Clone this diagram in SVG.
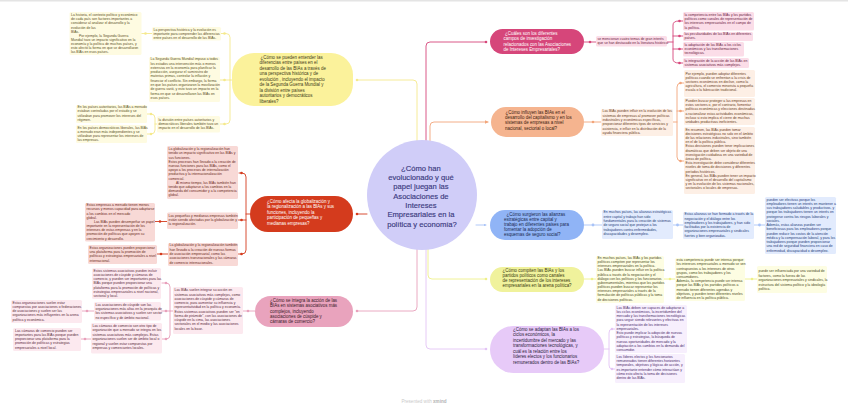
<svg xmlns="http://www.w3.org/2000/svg" width="848" height="412" viewBox="0 0 848 412">
<defs>
<marker id="arO" viewBox="0 0 6 6" refX="5" refY="3" markerWidth="4" markerHeight="4" orient="auto"><path d="M0,0 L6,3 L0,6 z" fill="#f2a57a"/></marker>
<marker id="arB" viewBox="0 0 6 6" refX="5" refY="3" markerWidth="3" markerHeight="3" orient="auto"><path d="M0,0 L6,3 L0,6 z" fill="#a8c3f7"/></marker>
</defs>
<style>
.c{font-family:"Liberation Sans",Arial,sans-serif;font-size:3.45px}
.n{font-family:"Liberation Sans",Arial,sans-serif;font-size:4.45px}
.ln{fill:none;stroke-width:0.9;stroke-linecap:round;stroke-linejoin:round}
.by{fill:#fefbe1}.ty{fill:#5a4f1e}
.br{fill:#f8d9d6}.tr{fill:#6a2a20}
.bp{fill:#fce9ef}.tp{fill:#5a2a3a}
.bm{fill:#fbdde8}.tm{fill:#6a2040}
.bo{fill:#fdefe5}.to{fill:#6a3a22}
.bb{fill:#e2ebfd}.tb{fill:#1f3c7a}
.bl{fill:#fdfde2}.tl{fill:#4a4a1a}
.bu{fill:#f7effd}.tu{fill:#4a2a6a}
</style>
<rect width="848" height="412" fill="#ffffff"/>
<rect width="848" height="1.5" fill="#e4e4e4"/>

<g id="connectors">
<!-- yellow -->
<path class="ln" stroke="#f5e98c" d="M417,141 V84 Q417,80 413,80 H357"/>
<path class="ln" stroke="#f5e98c" d="M232,80 H230 M221,33.5 H226 Q230,33.5 230,37.5 V120 Q230,124 226,124 H220 M220,80 H230 M152,33.5 H141.5 M157,124 H155 M147,114 H151 Q155,114 155,118 V130 Q155,134 151,134 H147"/>
<circle cx="357" cy="80" r="1.3" fill="#f5e98c"/>
<circle cx="224.5" cy="33.5" r="1.3" fill="#f5e98c"/>
<circle cx="224.5" cy="80" r="1.3" fill="#f5e98c"/>
<circle cx="224.5" cy="124" r="1.3" fill="#f5e98c"/>
<circle cx="145.5" cy="33.5" r="1.3" fill="#f5e98c"/>
<circle cx="151" cy="114" r="1.3" fill="#f5e98c"/>
<circle cx="151" cy="134" r="1.3" fill="#f5e98c"/>
<!-- red -->
<path class="ln" stroke="#d43b1d" d="M367,214 H357 M250,214 H246 M239,173 H242 Q246,173 246,177 V250 Q246,254 242,254 H238.5 M238.5,220 H246 M167,221.5 H155 M168,254 H157"/>
<circle cx="357" cy="214" r="1.3" fill="#d43b1d"/>
<circle cx="241.5" cy="173" r="1.3" fill="#d43b1d"/>
<circle cx="241.5" cy="220" r="1.3" fill="#d43b1d"/>
<circle cx="241.5" cy="254" r="1.3" fill="#d43b1d"/>
<circle cx="160" cy="221.5" r="1.3" fill="#d43b1d"/>
<circle cx="161" cy="254" r="1.3" fill="#d43b1d"/>
<!-- pink -->
<path class="ln" stroke="#e8a0bb" d="M417,249 V307 Q417,311 413,311 H357 M255,311 H243 M173,311 H170 M162,283 H166 Q170,283 170,287 V335 Q170,339 166,339 H162 M161,311 H170 M94,311 H82 M91,339 H81"/>
<circle cx="357" cy="311" r="1.3" fill="#e8a0bb"/>
<circle cx="248" cy="311" r="1.3" fill="#e8a0bb"/>
<circle cx="166" cy="283" r="1.3" fill="#e8a0bb"/>
<circle cx="166" cy="311" r="1.3" fill="#e8a0bb"/>
<circle cx="166" cy="339" r="1.3" fill="#e8a0bb"/>
<circle cx="87" cy="311" r="1.3" fill="#e8a0bb"/>
<circle cx="85" cy="339" r="1.3" fill="#e8a0bb"/>
<!-- magenta -->
<path class="ln" stroke="#d6467a" d="M426,141 V46 Q426,42 430,42 H486 M584,42 H596 M667,42 H673 M683,21 H679 Q673,21 673,25 V59 Q673,63 679,63 H683 M673,36 H683 M673,49 H683"/>
<circle cx="486" cy="42" r="1.3" fill="#d6467a"/>
<circle cx="590" cy="42" r="1.3" fill="#d6467a"/>
<circle cx="679.5" cy="21" r="1.3" fill="#d6467a"/>
<circle cx="679.5" cy="36" r="1.3" fill="#d6467a"/>
<circle cx="679.5" cy="49" r="1.3" fill="#d6467a"/>
<circle cx="679.5" cy="63" r="1.3" fill="#d6467a"/>
<!-- orange -->
<path class="ln" stroke="#f2a57a" d="M430,141 V126 Q430,122 434,122 H488" marker-end="url(#arO)"/>
<path class="ln" stroke="#f2a57a" d="M584,122 H601 M673,122 H677 M684,83 H681 Q677,83 677,87 V157 Q677,161 681,161 H684 M677,111 H684"/>
<circle cx="593" cy="122" r="1.3" fill="#f2a57a"/>
<circle cx="680.5" cy="83" r="1.3" fill="#f2a57a"/>
<circle cx="680.5" cy="111" r="1.3" fill="#f2a57a"/>
<circle cx="680.5" cy="161" r="1.3" fill="#f2a57a"/>
<!-- blue -->
<path class="ln" stroke="#a8c3f7" stroke-width="1.8" d="M476,225 H486" marker-end="url(#arB)"/>
<path class="ln" stroke="#a8c3f7" stroke-width="1.4" d="M584,225 H602 M673,225 H683 M754,225 H765"/>
<circle cx="593" cy="225" r="1.4" fill="#a8c3f7"/>
<circle cx="677.5" cy="225" r="1.4" fill="#a8c3f7"/>
<circle cx="759.5" cy="225" r="1.4" fill="#a8c3f7"/>
<!-- lime -->
<path class="ln" stroke="#eef08a" d="M428,249 V275 Q428,279 432,279 H486 M584,279 H596 M664,279 H675 M745,279 H757"/>
<circle cx="486" cy="279" r="1.3" fill="#eef08a"/>
<circle cx="592" cy="279" r="1.3" fill="#eef08a"/>
<circle cx="670" cy="279" r="1.3" fill="#eef08a"/>
<circle cx="752" cy="279" r="1.3" fill="#eef08a"/>
<!-- purple -->
<path class="ln" stroke="#e3c4f5" d="M426,249 V345 Q426,349 430,349 H486 M604,349 H609 M615,329 H612 Q609,329 609,333 V365 Q609,369 612,369 H615"/>
<circle cx="486" cy="349" r="1.3" fill="#e3c4f5"/>
<circle cx="612" cy="329" r="1.3" fill="#e3c4f5"/>
<circle cx="612" cy="369" r="1.3" fill="#e3c4f5"/>
</g>

<g id="central">
<ellipse cx="422" cy="195" rx="55" ry="55" fill="#d0cdf8"/>
<text font-family="'Liberation Sans',Arial,sans-serif" font-size="7.6" fill="#3b3a80" stroke="#3b3a80" stroke-width="0.15" text-anchor="middle">
<tspan x="422" y="170.7">¿Cómo han</tspan>
<tspan x="422" y="180">evolucionado y qué</tspan>
<tspan x="422" y="189.3">papel juegan las</tspan>
<tspan x="422" y="198.6">Asociaciones de</tspan>
<tspan x="422" y="207.9">Intereses</tspan>
<tspan x="422" y="217.2">Empresariales en la</tspan>
<tspan x="422" y="226.5">política y economía?</tspan>
</text>
</g>

<!-- ===== YELLOW BRANCH ===== -->
<g id="node-yellow">
<rect x="232" y="53" width="121" height="53" rx="22" fill="#fbf29b"/>
<text class="n" fill="#3d3a1a">
<tspan x="260.5" y="58.5">¿Cómo se pueden entender las</tspan>
<tspan x="259.5" y="64">diferencias entre países en el</tspan>
<tspan x="259.5" y="69.5">desarrollo de las BIAs a través de</tspan>
<tspan x="259.5" y="75">una perspectiva histórica y de</tspan>
<tspan x="259.5" y="80.5">evolución , incluyendo el impacto</tspan>
<tspan x="259.5" y="86">de la Segunda Guerra Mundial y</tspan>
<tspan x="259.5" y="91.5">la división entre países</tspan>
<tspan x="259.5" y="97">autoritarios y democráticos</tspan>
<tspan x="259.5" y="102.5">liberales?</tspan>
</text>
</g>
<g id="y1">
<rect x="152" y="27" width="69" height="13.5" rx="1.5" class="by"/>
<text class="c ty">
<tspan x="153.5" y="30.5">La perspectiva histórica y la evolución es</tspan>
<tspan x="153.5" y="34.7">importante para comprender las diferencias</tspan>
<tspan x="153.5" y="38.9">entre países en el desarrollo de las BIAs.</tspan>
</text>
</g>
<g id="y1a">
<rect x="69.5" y="12" width="72" height="43" rx="1.5" class="by"/>
<text class="c ty">
<tspan x="71" y="16.2">La historia, el contexto político y económico</tspan>
<tspan x="71" y="20.3">de cada país son factores importantes a</tspan>
<tspan x="71" y="24.4">considerar al analizar el desarrollo y la</tspan>
<tspan x="71" y="28.5">evolución de las</tspan>
<tspan x="71" y="32.6">BIAs.</tspan>
<tspan x="79" y="36.7">Por ejemplo, la Segunda Guerra</tspan>
<tspan x="71" y="40.8">Mundial tuvo un impacto significativo en la</tspan>
<tspan x="71" y="44.9">economía y la política de muchos países, y</tspan>
<tspan x="71" y="49">esto afectó la forma en que se desarrollaron</tspan>
<tspan x="71" y="53.1">las BIAs en esos países.</tspan>
</text>
</g>
<g id="y2">
<rect x="149" y="57" width="71" height="45" rx="1.5" class="by"/>
<text class="c ty">
<tspan x="150.5" y="60.2">La Segunda Guerra Mundial impuso a todos</tspan>
<tspan x="150.5" y="64.5">los estados una intervención más o menos</tspan>
<tspan x="150.5" y="68.8">extensiva en la economía para planificar la</tspan>
<tspan x="150.5" y="73.1">producción, asegurar el suministro de</tspan>
<tspan x="150.5" y="77.4">materias primas, controlar la inflación y</tspan>
<tspan x="150.5" y="81.7">financiar el conflicto. Sin embargo, la forma</tspan>
<tspan x="150.5" y="86">en que los países organizaron la movilización</tspan>
<tspan x="150.5" y="90.3">de guerra varió, y esto tuvo un impacto en la</tspan>
<tspan x="150.5" y="94.6">forma en que se desarrollaron las BIAs en</tspan>
<tspan x="150.5" y="98.9">esos países.</tspan>
</text>
</g>
<g id="y3">
<rect x="157" y="116" width="63" height="16.5" rx="1.5" class="by"/>
<text class="c ty">
<tspan x="158.5" y="120.5">la división entre países autoritarios y</tspan>
<tspan x="158.5" y="124.7">democráticos liberales también tuvo un</tspan>
<tspan x="158.5" y="128.9">impacto en el desarrollo de las BIAs.</tspan>
</text>
</g>
<g id="y3a">
<rect x="76" y="105" width="71" height="18" rx="1.5" class="by"/>
<text class="c ty">
<tspan x="77.5" y="107.9">En los países autoritarios, las BIAs a menudo</tspan>
<tspan x="77.5" y="112.3">estaban controladas por el estado y se</tspan>
<tspan x="77.5" y="116.7">utilizaban para promover los intereses del</tspan>
<tspan x="77.5" y="121.1">régimen.</tspan>
</text>
</g>
<g id="y3b">
<rect x="76" y="125" width="71" height="18" rx="1.5" class="by"/>
<text class="c ty">
<tspan x="77.5" y="128.5">En los países democráticos liberales, las BIAs</tspan>
<tspan x="77.5" y="132.8">a menudo eran más independientes y se</tspan>
<tspan x="77.5" y="137.1">utilizaban para representar los intereses de</tspan>
<tspan x="77.5" y="141.4">las empresas.</tspan>
</text>
</g>

<!-- ===== RED BRANCH ===== -->
<g id="node-red">
<rect x="250" y="196" width="103" height="36" rx="18" fill="#d43b1d"/>
<text class="n" fill="#ffffff">
<tspan x="267" y="202.5">¿Cómo afecta la globalización y</tspan>
<tspan x="267" y="208">la regionalización a las BIAs y sus</tspan>
<tspan x="267" y="213.5">funciones, incluyendo la</tspan>
<tspan x="267" y="219">participación de pequeñas y</tspan>
<tspan x="267" y="224.5">medianas empresas?</tspan>
</text>
</g>
<g id="r1">
<rect x="167" y="146" width="71" height="53" rx="1.5" class="br"/>
<text class="c tr">
<tspan x="168.5" y="150.2">La globalización y la regionalización han</tspan>
<tspan x="168.5" y="154.4">tenido un impacto significativo en las BIAs y</tspan>
<tspan x="168.5" y="158.6">sus funciones.</tspan>
<tspan x="168.5" y="162.8">Estos procesos han llevado a la creación de</tspan>
<tspan x="168.5" y="167">nuevas funciones para las BIAs, como el</tspan>
<tspan x="168.5" y="171.2">apoyo a los procesos de internalización</tspan>
<tspan x="168.5" y="175.4">productiva y la internacionalización</tspan>
<tspan x="168.5" y="179.6">comercial.</tspan>
<tspan x="176" y="183.8">Al mismo tiempo, las BIAs también han</tspan>
<tspan x="168.5" y="188">tenido que adaptarse a los cambios en la</tspan>
<tspan x="168.5" y="192.2">demanda del consumidor y a la competencia</tspan>
<tspan x="168.5" y="196.4">global.</tspan>
</text>
</g>
<g id="r2">
<rect x="167" y="212.5" width="71" height="16.5" rx="1.5" class="br"/>
<text class="c tr">
<tspan x="168.5" y="216.9">Las pequeñas y medianas empresas también</tspan>
<tspan x="168.5" y="221">están siendo afectadas por la globalización y</tspan>
<tspan x="168.5" y="225.1">la regionalización.</tspan>
</text>
</g>
<g id="r2c">
<rect x="85" y="203" width="70" height="38.5" rx="1.5" class="br"/>
<text class="c tr">
<tspan x="86.5" y="206.2">Estas empresas a menudo tienen menos</tspan>
<tspan x="86.5" y="210.4">recursos y menos capacidad para adaptarse</tspan>
<tspan x="86.5" y="214.5">a los cambios en el mercado</tspan>
<tspan x="86.5" y="218.7">global.</tspan>
<tspan x="94" y="222.9">Las BIAs pueden desempeñar un papel</tspan>
<tspan x="86.5" y="227.1">importante en la representación de los</tspan>
<tspan x="86.5" y="231.2">intereses de estas empresas y en la</tspan>
<tspan x="86.5" y="235.4">promoción de políticas que apoyen su</tspan>
<tspan x="86.5" y="239.6">crecimiento y desarrollo.</tspan>
</text>
</g>
<g id="r3">
<rect x="168" y="243" width="70" height="23" rx="1.5" class="br"/>
<text class="c tr">
<tspan x="169.5" y="246.2">La globalización y la regionalización también</tspan>
<tspan x="169.5" y="250.6">han llevado a la creación de nuevas formas</tspan>
<tspan x="169.5" y="255">de asociación empresarial, como las</tspan>
<tspan x="169.5" y="259.4">asociaciones transnacionales y las cámaras</tspan>
<tspan x="169.5" y="263.8">de comercio internacionales.</tspan>
</text>
</g>
<g id="r3c">
<rect x="88" y="245" width="69" height="19" rx="1.5" class="br"/>
<text class="c tr">
<tspan x="89.5" y="248.5">Estas organizaciones pueden proporcionar</tspan>
<tspan x="89.5" y="252.9">una plataforma para la promoción de</tspan>
<tspan x="89.5" y="257.4">políticas y estrategias empresariales a nivel</tspan>
<tspan x="89.5" y="261.8">internacional.</tspan>
</text>
</g>

<!-- ===== PINK BRANCH ===== -->
<g id="node-pink">
<rect x="255" y="296" width="98" height="31" rx="15.5" fill="#e9a3bd"/>
<text class="n" fill="#3a1a28">
<tspan x="270" y="301.8">¿Cómo se integra la acción de las</tspan>
<tspan x="270" y="307.2">BIAs en sistemas asociativos más</tspan>
<tspan x="270" y="312.6">complejos, incluyendo</tspan>
<tspan x="270" y="318">asociaciones de cúspide y</tspan>
<tspan x="270" y="323.4">cámaras de comercio?</tspan>
</text>
</g>
<g id="p1">
<rect x="173" y="287" width="70" height="47" rx="1.5" class="bp"/>
<text class="c tp">
<tspan x="174.5" y="291.2">Las BIAs suelen integrar su acción en</tspan>
<tspan x="174.5" y="295.5">sistemas asociativos más complejos, como</tspan>
<tspan x="174.5" y="299.7">asociaciones de cúspide y cámaras de</tspan>
<tspan x="174.5" y="304">comercio, para aumentar su influencia y</tspan>
<tspan x="174.5" y="308.2">representatividad en la política y economía.</tspan>
<tspan x="174.5" y="312.5">Estos sistemas asociativos pueden ser &quot;en</tspan>
<tspan x="174.5" y="316.8">forma de pirámide&quot;, con las asociaciones de</tspan>
<tspan x="174.5" y="321">cúspide en la cima, las asociaciones</tspan>
<tspan x="174.5" y="325.3">sectoriales en el medio y las asociaciones</tspan>
<tspan x="174.5" y="329.5">locales en la base.</tspan>
</text>
</g>
<g id="p2">
<rect x="92" y="268" width="69" height="31" rx="1.5" class="bp"/>
<text class="c tp">
<tspan x="93.5" y="271.9">Estos sistemas asociativos pueden incluir</tspan>
<tspan x="93.5" y="276.1">asociaciones de cúspide y cámaras de</tspan>
<tspan x="93.5" y="280.2">comercio, y pueden ser importantes para las</tspan>
<tspan x="93.5" y="284.4">BIAs porque pueden proporcionar una</tspan>
<tspan x="93.5" y="288.6">plataforma para la promoción de políticas y</tspan>
<tspan x="93.5" y="292.8">estrategias empresariales a nivel nacional,</tspan>
<tspan x="93.5" y="296.9">sectorial y local.</tspan>
</text>
</g>
<g id="p3">
<rect x="94" y="302" width="67" height="18.5" rx="1.5" class="bp"/>
<text class="c tp">
<tspan x="95.5" y="305.9">Las asociaciones de cúspide son las</tspan>
<tspan x="95.5" y="310.1">organizaciones más altas en la jerarquía de</tspan>
<tspan x="95.5" y="314.3">los sistemas asociativos y suelen ser sector</tspan>
<tspan x="95.5" y="318.5">no específico y de ámbito nacional.</tspan>
</text>
</g>
<g id="p3a">
<rect x="11" y="300" width="71" height="23" rx="1.5" class="bp"/>
<text class="c tp">
<tspan x="12.5" y="303.5">Estas organizaciones suelen estar</tspan>
<tspan x="12.5" y="307.8">compuestas por asociaciones o federaciones</tspan>
<tspan x="12.5" y="312">de asociaciones y suelen ser las</tspan>
<tspan x="12.5" y="316.3">organizaciones más influyentes en la arena</tspan>
<tspan x="12.5" y="320.5">política y económica.</tspan>
</text>
</g>
<g id="p4">
<rect x="91" y="323" width="71" height="30.5" rx="1.5" class="bp"/>
<text class="c tp">
<tspan x="92.5" y="326.9">Las cámaras de comercio son otro tipo de</tspan>
<tspan x="92.5" y="331.3">organización que a menudo se integra en los</tspan>
<tspan x="92.5" y="335.7">sistemas asociativos más complejos. Estas</tspan>
<tspan x="92.5" y="340.1">organizaciones suelen ser de ámbito local o</tspan>
<tspan x="92.5" y="344.5">regional y suelen estar compuestas por</tspan>
<tspan x="92.5" y="348.9">empresas y comerciantes locales.</tspan>
</text>
</g>
<g id="p4a">
<rect x="13" y="328" width="68" height="23" rx="1.5" class="bp"/>
<text class="c tp">
<tspan x="15" y="331.9">Las cámaras de comercio pueden ser</tspan>
<tspan x="15" y="336.1">importantes para las BIAs porque pueden</tspan>
<tspan x="15" y="340.2">proporcionar una plataforma para la</tspan>
<tspan x="15" y="344.4">promoción de políticas y estrategias</tspan>
<tspan x="15" y="348.6">empresariales a nivel local.</tspan>
</text>
</g>

<!-- ===== MAGENTA BRANCH ===== -->
<g id="node-magenta">
<rect x="490" y="29" width="94" height="25" rx="12.5" fill="#d6467a"/>
<text class="n" fill="#ffffff">
<tspan x="505" y="34.5">¿Cuáles son los diferentes</tspan>
<tspan x="503.5" y="40">campos de investigación</tspan>
<tspan x="503.5" y="45.5">relacionados con las Asociaciones</tspan>
<tspan x="503.5" y="51">de Intereses Empresariales?</tspan>
</text>
</g>
<g id="m0">
<rect x="596" y="36" width="71" height="10.5" rx="1.5" class="bm"/>
<text class="c tm">
<tspan x="597.5" y="39.5">se mencionan cuatro temas de gran interés</tspan>
<tspan x="597.5" y="43.7">que se han destacado en la literatura histórica:</tspan>
</text>
</g>
<g id="m1">
<rect x="683" y="12" width="71" height="18.5" rx="1.5" class="bm"/>
<text class="c tm">
<tspan x="684.5" y="15.9">la competencia entre las BIAs y los partidos</tspan>
<tspan x="684.5" y="20.1">políticos como canales de representación de</tspan>
<tspan x="684.5" y="24.3">los intereses empresariales en el campo de</tspan>
<tspan x="684.5" y="28.5">la  política.</tspan>
</text>
</g>
<g id="m2">
<rect x="683" y="32" width="70" height="9" rx="1.5" class="bm"/>
<text class="c tm">
<tspan x="684.5" y="35.2"> las peculiaridades de las BIAs en diferentes</tspan>
<tspan x="684.5" y="39.4">países.</tspan>
</text>
</g>
<g id="m3">
<rect x="683" y="42" width="61" height="14.5" rx="1.5" class="bm"/>
<text class="c tm">
<tspan x="684.5" y="45.5"> la adaptación de las BIAs a los ciclos</tspan>
<tspan x="684.5" y="49.9">económicos y las transformaciones</tspan>
<tspan x="684.5" y="54.3">tecnológicas.</tspan>
</text>
</g>
<g id="m4">
<rect x="683" y="58" width="66" height="10" rx="1.5" class="bm"/>
<text class="c tm">
<tspan x="684.5" y="61.9">la integración de la acción de las BIAs en</tspan>
<tspan x="684.5" y="66.1">sistemas asociativos más complejos.</tspan>
</text>
</g>

<!-- ===== ORANGE BRANCH ===== -->
<g id="node-orange">
<rect x="491" y="107" width="93" height="30" rx="15" fill="#f5b48f"/>
<text class="n" fill="#3a2010">
<tspan x="505.5" y="113.5">¿Cómo influyen las BIAs en el</tspan>
<tspan x="505" y="118.9">desarrollo del capitalismo y en los</tspan>
<tspan x="505" y="124.3">sistemas de empresas a nivel</tspan>
<tspan x="505" y="129.7">nacional, sectorial o local?</tspan>
</text>
</g>
<g id="o0">
<rect x="601" y="109" width="72" height="27" rx="1.5" class="bo"/>
<text class="c to">
<tspan x="602.5" y="112.2">Las BIAs pueden influir en la evolución de los</tspan>
<tspan x="602.5" y="116.6">sistemas de empresas al promover políticas</tspan>
<tspan x="602.5" y="121">industriales y económicas específicas,</tspan>
<tspan x="602.5" y="125.4">proporcionar diferentes tipos de servicios y</tspan>
<tspan x="602.5" y="129.8">asistencia, e influir en la distribución de la</tspan>
<tspan x="602.5" y="134.2">ayuda financiera pública.</tspan>
</text>
</g>
<g id="o1">
<rect x="684" y="70" width="71" height="27" rx="1.5" class="bo"/>
<text class="c to">
<tspan x="685.5" y="74.5">Por ejemplo, pueden adoptar diferentes</tspan>
<tspan x="685.5" y="78.7">políticas cuando se enfrentan a la crisis de</tspan>
<tspan x="685.5" y="82.9">sectores económicos en declive, como la</tspan>
<tspan x="685.5" y="87.1">agricultura, el comercio minorista a pequeña</tspan>
<tspan x="685.5" y="91.3">escala o la fabricación tradicional.</tspan>
</text>
</g>
<g id="o2">
<rect x="684" y="98" width="71" height="27" rx="1.5" class="bo"/>
<text class="c to">
<tspan x="685.5" y="101.9">Pueden buscar proteger a las empresas en</tspan>
<tspan x="685.5" y="106.2">estos sectores o, por el contrario, fomentar</tspan>
<tspan x="685.5" y="110.4">políticas económicas y elecciones destinadas</tspan>
<tspan x="685.5" y="114.7">a racionalizar estas actividades económicas,</tspan>
<tspan x="685.5" y="118.9">incluso si esto implica el cierre de muchas</tspan>
<tspan x="685.5" y="123.2">unidades productivas ineficientes.</tspan>
</text>
</g>
<g id="o3">
<rect x="684" y="127" width="71" height="67" rx="1.5" class="bo"/>
<text class="c to">
<tspan x="685.5" y="130.5">En resumen, las BIAs pueden tomar</tspan>
<tspan x="685.5" y="134.7">decisiones estratégicas no solo en el ámbito</tspan>
<tspan x="685.5" y="138.9">de las relaciones industriales, sino también</tspan>
<tspan x="685.5" y="143.1">en el de la política pública.</tspan>
<tspan x="685.5" y="147.3">Estas decisiones pueden tener implicaciones</tspan>
<tspan x="685.5" y="151.6">dramáticas que deben ser objeto de una</tspan>
<tspan x="685.5" y="155.8">investigación cuidadosa en una variedad de</tspan>
<tspan x="685.5" y="160">áreas de política.</tspan>
<tspan x="685.5" y="164.2">Esta investigación debe considerar diferentes</tspan>
<tspan x="685.5" y="168.4">niveles de toma de decisiones y diferentes</tspan>
<tspan x="685.5" y="172.6">períodos históricos.</tspan>
<tspan x="685.5" y="176.8">En general, las BIAs pueden tener un impacto</tspan>
<tspan x="685.5" y="181">significativo en el desarrollo del capitalismo</tspan>
<tspan x="685.5" y="185.2">y en la evolución de los sistemas nacionales,</tspan>
<tspan x="685.5" y="189.4">sectoriales o locales de empresas.</tspan>
</text>
</g>

<!-- ===== BLUE BRANCH ===== -->
<g id="node-blue">
<rect x="490" y="210" width="94" height="30" rx="15" fill="#90b4f6"/>
<text class="n" fill="#1a2a50">
<tspan x="506.5" y="215.8">¿Cómo surgieron las alianzas</tspan>
<tspan x="504" y="220.8">estratégicas entre capital y</tspan>
<tspan x="504" y="225.8">trabajo en diferentes países para</tspan>
<tspan x="504" y="230.8">fomentar la adopción de</tspan>
<tspan x="504" y="235.8">esquemas de seguro social?</tspan>
</text>
</g>
<g id="b1">
<rect x="602" y="210" width="71" height="29" rx="1.5" class="bb"/>
<text class="c tb">
<tspan x="603.5" y="213.2">En muchos países, las alianzas estratégicas</tspan>
<tspan x="603.5" y="217.6">entre capital y trabajo han sido</tspan>
<tspan x="603.5" y="222">fundamentales para la creación de sistemas</tspan>
<tspan x="603.5" y="226.4">de seguro social que protejan a los</tspan>
<tspan x="603.5" y="230.8">trabajadores contra enfermedades,</tspan>
<tspan x="603.5" y="235.2">discapacidades y desempleo.</tspan>
</text>
</g>
<g id="b2">
<rect x="683" y="212" width="71" height="27" rx="1.5" class="bb"/>
<text class="c tb">
<tspan x="684.5" y="215.2">Estas alianzas se han formado a través de la</tspan>
<tspan x="684.5" y="219.5">negociación y el diálogo entre los</tspan>
<tspan x="684.5" y="223.8">empleadores y los trabajadores, y han sido</tspan>
<tspan x="684.5" y="228.1">facilitadas por la existencia de</tspan>
<tspan x="684.5" y="232.4">organizaciones empresariales y sindicales</tspan>
<tspan x="684.5" y="236.7">fuertes y bien organizadas.</tspan>
</text>
</g>
<g id="b3">
<rect x="765" y="197" width="71" height="57" rx="1.5" class="bb"/>
<text class="c tb">
<tspan x="766.5" y="200.5">pueden ser efectivas porque los</tspan>
<tspan x="766.5" y="204.75">empleadores tienen un interés en mantener a</tspan>
<tspan x="766.5" y="209">sus trabajadores saludables y productivos, y</tspan>
<tspan x="766.5" y="213.25">porque los trabajadores tienen un interés en</tspan>
<tspan x="766.5" y="217.5">protegerse contra los riesgos laborales y</tspan>
<tspan x="766.5" y="221.75">sociales.</tspan>
<tspan x="766.5" y="226">Además, estas alianzas pueden ser</tspan>
<tspan x="766.5" y="230.25">beneficiosas para los empleadores porque</tspan>
<tspan x="766.5" y="234.5">pueden reducir los costos de la atención</tspan>
<tspan x="766.5" y="238.75">médica y la compensación laboral, y para los</tspan>
<tspan x="766.5" y="243">trabajadores porque pueden proporcionar</tspan>
<tspan x="766.5" y="247.25">una red de seguridad financiera en caso de</tspan>
<tspan x="766.5" y="251.5">enfermedad, discapacidad o desempleo.</tspan>
</text>
</g>

<!-- ===== LIME BRANCH ===== -->
<g id="node-lime">
<rect x="490" y="267" width="94" height="25" rx="12.5" fill="#f0f29c"/>
<text class="n" fill="#3a3a10">
<tspan x="502.5" y="271.5">¿Cómo compiten las BIAs y los</tspan>
<tspan x="502.5" y="276.8">partidos políticos como canales</tspan>
<tspan x="502.5" y="282.1">de representación de los intereses</tspan>
<tspan x="502.5" y="287.4">empresariales en la arena política?</tspan>
</text>
</g>
<g id="l1">
<rect x="596" y="256" width="68" height="47" rx="1.5" class="bl"/>
<text class="c tl">
<tspan x="597.5" y="258.9">En muchos países, las BIAs y los partidos</tspan>
<tspan x="597.5" y="263.1">políticos compiten por representar los</tspan>
<tspan x="597.5" y="267.2">intereses empresariales en la política.</tspan>
<tspan x="597.5" y="271.4">Las BIAs pueden buscar influir en la política</tspan>
<tspan x="597.5" y="275.5">pública a través de la negociación y el</tspan>
<tspan x="597.5" y="279.7">diálogo con los políticos y los funcionarios</tspan>
<tspan x="597.5" y="283.9">gubernamentales, mientras que los partidos</tspan>
<tspan x="597.5" y="288">políticos pueden buscar representar los</tspan>
<tspan x="597.5" y="292.2">intereses empresariales a través de la</tspan>
<tspan x="597.5" y="296.3">formulación de políticas públicas y la toma</tspan>
<tspan x="597.5" y="300.5">de decisiones políticas.</tspan>
</text>
</g>
<g id="l2">
<rect x="675" y="258" width="70" height="43" rx="1.5" class="bl"/>
<text class="c tl">
<tspan x="676.5" y="261.2">esta competencia puede ser intensa porque</tspan>
<tspan x="676.5" y="265.4">los intereses empresariales a menudo se ven</tspan>
<tspan x="676.5" y="269.6">contrapuestos a los intereses de otros</tspan>
<tspan x="676.5" y="273.8">grupos, como los trabajadores y los</tspan>
<tspan x="676.5" y="278">consumidores.</tspan>
<tspan x="676.5" y="282.2">Además, la competencia puede ser intensa</tspan>
<tspan x="676.5" y="286.4">porque las BIAs y los partidos políticos a</tspan>
<tspan x="676.5" y="290.6">menudo tienen diferentes agendas y</tspan>
<tspan x="676.5" y="294.8">objetivos, y pueden tener diferentes niveles</tspan>
<tspan x="676.5" y="299">de influencia en la política pública.</tspan>
</text>
</g>
<g id="l3">
<rect x="757" y="266" width="70" height="27" rx="1.5" class="bl"/>
<text class="c tl">
<tspan x="758.5" y="272.2">puede ser influenciada por una variedad de</tspan>
<tspan x="758.5" y="276.7">factores, como la fuerza de las</tspan>
<tspan x="758.5" y="281.2">organizaciones empresariales y sindicales, la</tspan>
<tspan x="758.5" y="285.7">estructura del sistema político y la ideología</tspan>
<tspan x="758.5" y="290.2">política.</tspan>
</text>
</g>

<!-- ===== PURPLE BRANCH ===== -->
<g id="node-purple">
<rect x="490" y="326" width="114" height="47" rx="23.5" fill="#e7caf8"/>
<text class="n" fill="#2a1a3a">
<tspan x="513" y="330.8">¿Cómo se adaptan las BIAs a los</tspan>
<tspan x="513" y="336.3">ciclos económicos, la</tspan>
<tspan x="513" y="341.8">incertidumbre del mercado y las</tspan>
<tspan x="513" y="347.3">transformaciones tecnológicas, y</tspan>
<tspan x="513" y="352.8">cuál es la relación entre los</tspan>
<tspan x="513" y="358.3">líderes electos y los funcionarios</tspan>
<tspan x="513" y="363.8">remunerados dentro de las BIAs?</tspan>
</text>
</g>
<g id="u1">
<rect x="615" y="305" width="72" height="48" rx="1.5" class="bu"/>
<text class="c tu">
<tspan x="616.5" y="308.5">Las BIAs deben ser capaces de adaptarse a</tspan>
<tspan x="616.5" y="312.8">los ciclos económicos, la incertidumbre del</tspan>
<tspan x="616.5" y="317">mercado y las transformaciones tecnológicas</tspan>
<tspan x="616.5" y="321.3">para seguir siendo relevantes y efectivas en</tspan>
<tspan x="616.5" y="325.6">la representación de los intereses</tspan>
<tspan x="616.5" y="329.9">empresariales.</tspan>
<tspan x="616.5" y="334.1">Esto puede implicar la adopción de nuevas</tspan>
<tspan x="616.5" y="338.4">políticas y estrategias, la búsqueda de</tspan>
<tspan x="616.5" y="342.7">nuevas oportunidades de mercado y la</tspan>
<tspan x="616.5" y="346.9">adaptación a los cambios en la demanda del</tspan>
<tspan x="616.5" y="351.2">consumidor.</tspan>
</text>
</g>
<g id="u2">
<rect x="615" y="354" width="70" height="29" rx="1.5" class="bu"/>
<text class="c tu">
<tspan x="616.5" y="357.9">Los líderes electos y los funcionarios</tspan>
<tspan x="616.5" y="362.1">remunerados tienen diferentes horizontes</tspan>
<tspan x="616.5" y="366.3">temporales, objetivos y lógicas de acción, y</tspan>
<tspan x="616.5" y="370.5">es importante entender cómo interactúan y</tspan>
<tspan x="616.5" y="374.7">cómo esto afecta la toma de decisiones</tspan>
<tspan x="616.5" y="378.9">dentro de las BIAs.</tspan>
</text>
</g>

<text x="424" y="402.5" text-anchor="middle" font-family="'Liberation Sans',Arial,sans-serif" font-size="4.6" fill="#cacaca">Presented with <tspan fill="#b3b3b3" font-weight="bold">xmind</tspan></text>
</svg>
